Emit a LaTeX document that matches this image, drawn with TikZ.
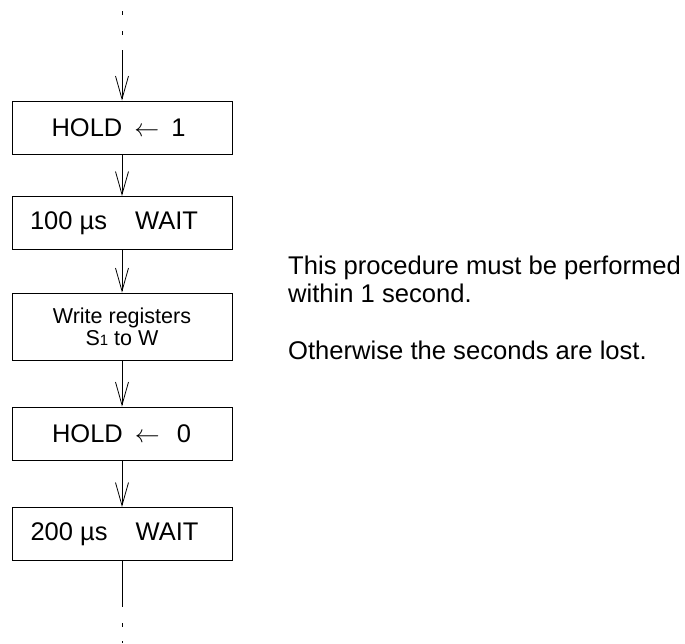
\documentclass[tikz,border=0pt]{standalone}
\usepackage{fontspec}
\setmainfont{Liberation Sans}
\usetikzlibrary{arrows.meta}
\newcommand{\holdarrow}{\ensuremath{\leftarrow}}
\begin{document}
\begin{tikzpicture}[x=1pt,y=-1pt,
  stepbox/.style={draw,line width=1pt,minimum width=220pt,minimum height=53pt,inner sep=0pt,
    font=\fontsize{25.5}{28}\selectfont},
  flow/.style={line width=0.8pt,-{Straight Barb[length=23pt,width=13pt,line width=0.8pt]}},
  plain/.style={line width=0.8pt}]
\useasboundingbox (0,0) rectangle (685,643);
\node[stepbox] (b1) at (122,127.5) {HOLD\hspace{12pt}\holdarrow\hspace{12pt}1\kern7pt};
\node[stepbox] (b2) at (122,223) {100 µs\hspace{28pt}WAIT\kern16pt};
\node[stepbox,minimum height=67pt,align=center,font=\fontsize{21.5}{22}\selectfont] (b3) at (122,326.5)
  {Write registers\\S{\fontsize{15}{15}\selectfont 1} to W};
\node[stepbox] (b4) at (122,433.5) {HOLD\hspace{12pt}\holdarrow\hspace{17pt}0\kern1pt};
\node[stepbox] (b5) at (122,534) {200 µs\hspace{28pt}WAIT\kern15pt};
\coordinate (t0) at (122,50);
\coordinate (d1a) at (122,11); \coordinate (d1b) at (122,15);
\coordinate (d2a) at (122,31); \coordinate (d2b) at (122,35);
\coordinate (e0) at (122,607);
\coordinate (d3a) at (122,623); \coordinate (d3b) at (122,627);
\coordinate (d4a) at (122,641); \coordinate (d4b) at (122,643);
\draw[plain] (d1a) -- (d1b);
\draw[plain] (d2a) -- (d2b);
\draw[flow] (t0) -- (b1.north);
\draw[flow] (b1) -- (b2);
\draw[flow] (b2) -- (b3);
\draw[flow] (b3) -- (b4);
\draw[flow] (b4) -- (b5);
\draw[plain] (b5.south) -- (e0);
\draw[plain] (d3a) -- (d3b);
\draw[plain] (d4a) -- (d4b);
\node[anchor=north west,align=left,inner sep=0pt,font=\fontsize{25.6}{28}\selectfont] (note) at (288,256)
  {This procedure must be performed\\within 1 second.\\[29pt]Otherwise the seconds are lost.};
\end{tikzpicture}
\end{document}
